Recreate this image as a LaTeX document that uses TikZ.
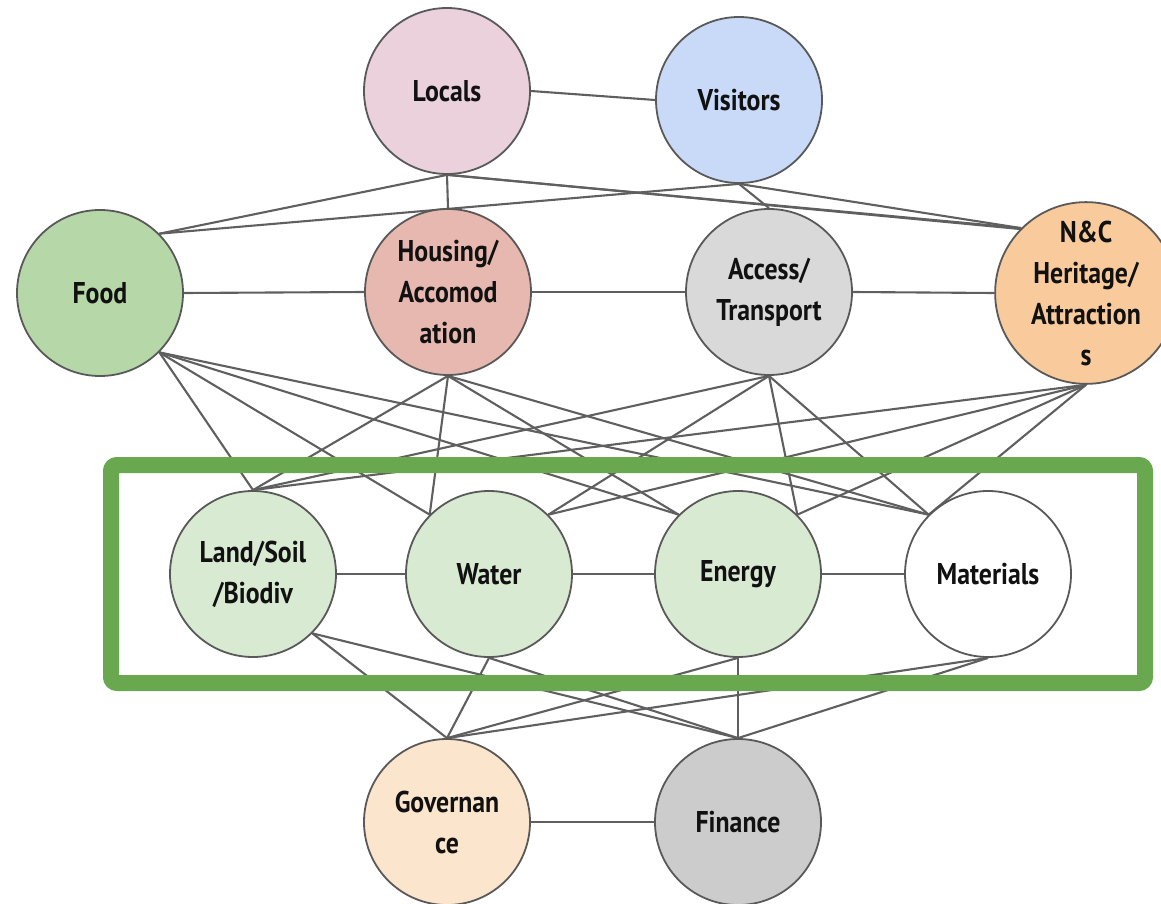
\documentclass[tikz,border=0pt]{standalone}
\usepackage{fontspec}
\setmainfont[FakeStretch=0.86]{PT Sans}
\usetikzlibrary{backgrounds}
\definecolor{cLocals}{HTML}{EAD1DC}
\definecolor{cVisitors}{HTML}{C9DAF8}
\definecolor{cFood}{HTML}{B6D7A8}
\definecolor{cHousing}{HTML}{E6B8AF}
\definecolor{cAccess}{HTML}{D9D9D9}
\definecolor{cHeritage}{HTML}{F9CB9C}
\definecolor{cRes}{HTML}{D9EAD3}
\definecolor{cGov}{HTML}{FCE5CD}
\definecolor{cFin}{HTML}{CCCCCC}
\definecolor{cOutline}{HTML}{595959}
\definecolor{cLink}{HTML}{5F5F5F}
\definecolor{cBox}{HTML}{6AA84F}
\definecolor{cText}{HTML}{111111}
\begin{document}
\begin{tikzpicture}[x=1pt,y=-1pt,
  circ/.style={circle,draw=cOutline,line width=1.8pt,minimum size=166pt,inner sep=0pt,
    align=center,text=cText,font=\fontsize{30}{41}\selectfont\bfseries},
  lk/.style={draw=cLink,line width=2.1pt},
  greenbox/.style={draw=cBox,line width=16pt,rounded corners=6pt}]
\useasboundingbox (0,0) rectangle (1161,904);
% top
\node[circ,fill=cLocals] (loc) at (447,91) {Locals};
\node[circ,fill=cVisitors] (vis) at (739,100) {Visitors};
% middle
\node[circ,fill=cFood] (food) at (100,293) {Food};
\node[circ,fill=cHousing] (hou) at (448,292) {Housing/\\Accomod\\ation};
\node[circ,fill=cAccess] (acc) at (769,292) {Access/\\Transport};
\node[circ,fill=cHeritage] (her) at (1086,293) {N\&C\\Heritage/\\Attraction\\s};
% resources
\node[circ,fill=cRes] (land) at (253,574) {Land/Soil\\/Biodiv};
\node[circ,fill=cRes] (wat) at (489,574) {Water};
\node[circ,fill=cRes] (ene) at (738,574) {Energy};
\node[circ,fill=white] (mat) at (988,574) {Materials};
% bottom
\node[circ,fill=cGov] (gov) at (447,822) {Governan\\ce};
\node[circ,fill=cFin] (fin) at (738,822) {Finance};
\begin{scope}[on background layer]
  % top layer links
  \draw[lk] (loc.east) -- (vis.west);
  \draw[lk] (loc.south) -- (food.north east);
  \draw[lk] (loc.south) -- (hou.north);
  \draw[lk] (loc.south) -- (her.north west);
  \draw[lk] ([xshift=2pt]loc.south) -- ([yshift=-1pt]her.north west);
  \draw[lk] (vis.south) -- (food.north east);
  \draw[lk] (vis.south) -- (acc.north);
  \draw[lk] (vis.south) -- (her.north west);
  % middle row
  \draw[lk] (food.east) -- (hou.west);
  \draw[lk] (hou.east) -- (acc.west);
  \draw[lk] (acc.east) -- (her.west);
  % middle to resources
  \draw[lk] (food.south east) -- (land.north);
  \draw[lk] (food.south east) -- (wat.north west);
  \draw[lk] (food.south east) -- (ene.north west);
  \draw[lk] (food.south east) -- (mat.north west);
  \draw[lk] (hou.south) -- (land.north);
  \draw[lk] (hou.south) -- (wat.north west);
  \draw[lk] (hou.south) -- (ene.north west);
  \draw[lk] (hou.south) -- (mat.north west);
  \draw[lk] (acc.south) -- (land.north);
  \draw[lk] (acc.south) -- (wat.north east);
  \draw[lk] (acc.south) -- (ene.north east);
  \draw[lk] (acc.south) -- (mat.north west);
  \draw[lk] (her.south) -- (land.north);
  \draw[lk] (her.south) -- (wat.north east);
  \draw[lk] (her.south) -- (ene.north east);
  \draw[lk] (her.south) -- (mat.north west);
  % resources row
  \draw[lk] (land.east) -- (wat.west);
  \draw[lk] (wat.east) -- (ene.west);
  \draw[lk] (ene.east) -- (mat.west);
  % resources to bottom
  \draw[lk] (land.south east) -- (gov.north);
  \draw[lk] (land.south east) -- (fin.north);
  \draw[lk] (wat.south) -- (gov.north);
  \draw[lk] (wat.south) -- (fin.north);
  \draw[lk] (ene.south) -- (gov.north);
  \draw[lk] (ene.south) -- (fin.north);
  \draw[lk] (mat.south) -- (gov.north);
  \draw[lk] (mat.south) -- (fin.north);
  \draw[lk] (gov.east) -- (fin.west);
  % green frame
  \draw[greenbox] (111,465) rectangle (1145,683);
\end{scope}
\end{tikzpicture}
\end{document}
